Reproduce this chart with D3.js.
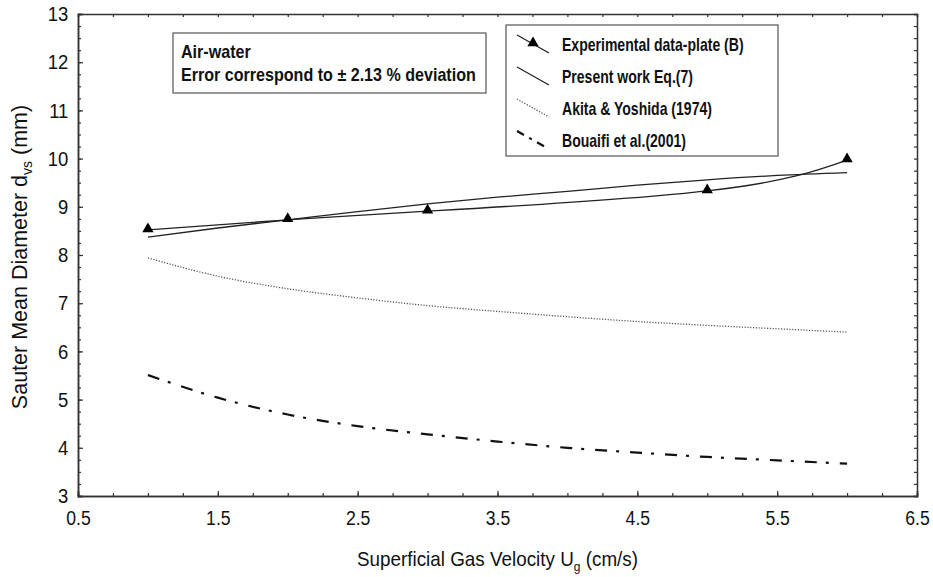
<!DOCTYPE html>
<html>
<head>
<meta charset="utf-8">
<script src="https://cdn.jsdelivr.net/npm/d3@7"></script>
<style>
  html, body { margin: 0; padding: 0; background: #fff; }
  svg text { font-family: "Liberation Sans", Arial, sans-serif; fill: #111; }
</style>
</head>
<body>
<svg id="chart" width="933" height="577"></svg>
<script>
// Superficial gas velocity (cm/s)
const ugExp = [1, 2, 3, 5, 6];
const ugModel = [1, 1.5, 2, 2.5, 3, 3.5, 4, 4.5, 5, 5.5, 6];

// Sauter mean diameter (mm)
const experimental = [8.52, 8.73, 8.91, 9.33, 9.97];
const presentWork  = [8.37, 8.56, 8.73, 8.90, 9.06, 9.20, 9.32, 9.45, 9.56, 9.65, 9.71];
const akitaYoshida = [7.94, 7.56, 7.30, 7.11, 6.95, 6.83, 6.72, 6.62, 6.54, 6.47, 6.40];
const bouaifi      = [5.51, 5.04, 4.69, 4.45, 4.28, 4.13, 4.00, 3.90, 3.81, 3.74, 3.67];

const xTicks = [0.5, 1.5, 2.5, 3.5, 4.5, 5.5, 6.5];
const yTicks = [3, 4, 5, 6, 7, 8, 9, 10, 11, 12, 13];

const legendLabels = [
  "Experimental data-plate (B)",
  "Present work Eq.(7)",
  "Akita & Yoshida (1974)",
  "Bouaifi et al.(2001)"
];
const noteLines = ["Air-water", "Error correspond to \u00B1 2.13 % deviation"];

const svg = d3.select("#chart");
const m = { left: 78, right: 917, top: 14, bottom: 496 };

const x = d3.scaleLinear().domain([0.5, 6.5]).range([m.left, m.right]);
const y = d3.scaleLinear().domain([3, 13]).range([m.bottom, m.top]);

const minorX = d3.range(0.5, 6.5001, 0.25);
const minorY = d3.range(3, 13.001, 0.25);

// condensed text: place at (px, py) and squeeze horizontally
function placeText(sel, px, py, sx) {
  return sel.attr("transform", `translate(${px},${py}) scale(${sx},1)`);
}

// axes with inward ticks on all four sides
function styleAxis(g) {
  g.select(".domain").attr("stroke", "#333").attr("stroke-width", 1.5);
  g.selectAll(".tick line").attr("stroke", "#333").attr("stroke-width", 1.2);
}

svg.append("g").attr("transform", `translate(0,${m.bottom})`)
  .call(d3.axisBottom(x).tickValues(minorX).tickSize(-3).tickFormat(""))
  .call(styleAxis);
svg.append("g").attr("transform", `translate(0,${m.bottom})`)
  .call(d3.axisBottom(x).tickValues(xTicks).tickSize(-5).tickPadding(14).tickFormat(d3.format(".1f")))
  .call(styleAxis)
  .call(g => g.selectAll("text").attr("font-size", 21).attr("transform", "scale(0.84,1)"));

svg.append("g").attr("transform", `translate(0,${m.top})`)
  .call(d3.axisTop(x).tickValues(minorX).tickSize(-3).tickFormat(""))
  .call(styleAxis);

svg.append("g").attr("transform", `translate(${m.left},0)`)
  .call(d3.axisLeft(y).tickValues(minorY).tickSize(-3).tickFormat(""))
  .call(styleAxis);
svg.append("g").attr("transform", `translate(${m.left},0)`)
  .call(d3.axisLeft(y).tickValues(yTicks).tickSize(-5).tickPadding(11).tickFormat(d3.format("d")))
  .call(styleAxis)
  .call(g => g.selectAll("text").attr("font-size", 21).attr("transform", "scale(0.88,1)"));

svg.append("g").attr("transform", `translate(${m.right},0)`)
  .call(d3.axisRight(y).tickValues(minorY).tickSize(-3).tickFormat(""))
  .call(styleAxis);

// axis titles
const xt = placeText(svg.append("text"), (m.left + m.right) / 2, 566, 0.92)
  .attr("text-anchor", "middle").attr("font-size", 20.5);
xt.append("tspan").text("Superficial Gas Velocity U");
xt.append("tspan").attr("font-size", 13).attr("dy", 5).text("g");
xt.append("tspan").attr("dy", -5).text(" (cm/s)");

const yt = svg.append("text")
  .attr("transform", `translate(27,${(m.top + m.bottom) / 2 + 2}) rotate(-90)`)
  .attr("text-anchor", "middle").attr("font-size", 21.5);
yt.append("tspan").text("Sauter Mean Diameter d");
yt.append("tspan").attr("font-size", 14).attr("dy", 5).text("vs");
yt.append("tspan").attr("dy", -5).text(" (mm)");

// curves
const line = d3.line().x(d => x(d[0])).y(d => y(d[1]));
const expPts = ugExp.map((u, i) => [u, experimental[i]]);
const pwPts = ugModel.map((u, i) => [u, presentWork[i]]);
const akPts = ugModel.map((u, i) => [u, akitaYoshida[i]]);
const boPts = ugModel.map((u, i) => [u, bouaifi[i]]);

svg.append("path").datum(akPts)
  .attr("d", line.curve(d3.curveMonotoneX))
  .attr("fill", "none").attr("stroke", "#555").attr("stroke-width", 1.3)
  .attr("stroke-dasharray", "1.2,1.6");

svg.append("path").datum(boPts)
  .attr("d", line.curve(d3.curveMonotoneX))
  .attr("fill", "none").attr("stroke", "#111").attr("stroke-width", 2.2)
  .attr("stroke-dasharray", "12,9,3,11");

svg.append("path").datum(pwPts)
  .attr("d", line.curve(d3.curveMonotoneX))
  .attr("fill", "none").attr("stroke", "#222").attr("stroke-width", 1.3);

svg.append("path").datum(expPts)
  .attr("d", line.curve(d3.curveNatural))
  .attr("fill", "none").attr("stroke", "#222").attr("stroke-width", 1.3);

const tri = d3.symbol().type(d3.symbolTriangle).size(55);
svg.append("g").selectAll("path").data(expPts).join("path")
  .attr("d", tri)
  .attr("transform", d => `translate(${x(d[0])},${y(d[1]) - 1})`)
  .attr("fill", "#000");

// note box
svg.append("rect").attr("x", 173).attr("y", 33).attr("width", 313).attr("height", 60)
  .attr("fill", "#fff").attr("stroke", "#555").attr("stroke-width", 1.2);
svg.append("g").selectAll("text").data(noteLines).join("text")
  .each(function (d, i) { placeText(d3.select(this), 181, 58 + i * 23, 0.92); })
  .attr("font-size", 17.5).attr("font-weight", "bold").text(d => d);

// legend
const lg = svg.append("g");
lg.append("rect").attr("x", 506).attr("y", 25).attr("width", 272).attr("height", 131)
  .attr("fill", "#fff").attr("stroke", "#555").attr("stroke-width", 1.2);
const rowY = [44, 76, 108, 140];
const legendStyles = [
  { dash: null, w: 1.3, c: "#222" },
  { dash: null, w: 1.3, c: "#222" },
  { dash: "1.2,1.6", w: 1.3, c: "#555" },
  { dash: "8,6,3,6", w: 2.2, c: "#111" }
];
legendLabels.forEach((lab, i) => {
  const cy = rowY[i];
  lg.append("line")
    .attr("x1", 517).attr("y1", cy - 9).attr("x2", 549).attr("y2", cy + 9)
    .attr("stroke", legendStyles[i].c).attr("stroke-width", legendStyles[i].w)
    .attr("stroke-dasharray", legendStyles[i].dash);
  if (i === 0) {
    lg.append("path").attr("d", tri).attr("transform", `translate(533,${cy - 1})`).attr("fill", "#000");
  }
  placeText(lg.append("text"), 562, cy + 7, 0.78)
    .attr("font-size", 18).attr("font-weight", "bold").text(lab);
});
</script>
</body>
</html>
